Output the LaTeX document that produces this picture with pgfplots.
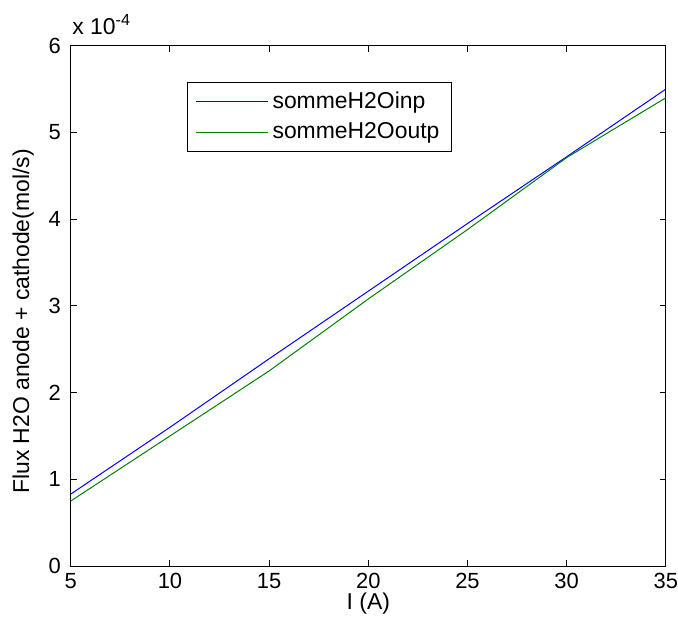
\documentclass[border=0pt]{standalone}
\usepackage{pgfplots}
\pgfplotsset{compat=1.18}
\usepackage{fontspec}
\setmainfont{Liberation Sans}
\definecolor{mblue}{RGB}{0,0,255}
\definecolor{mgreen}{RGB}{0,128,0}
\begin{document}
\begin{tikzpicture}
\begin{axis}[
  scale only axis,
  width=298.5pt, height=261pt,
  xmin=5, xmax=35, ymin=0, ymax=6,
  xtick={5,10,15,20,25,30,35},
  ytick={0,1,2,3,4,5,6},
  tick align=inside,
  major tick length=3pt,
  every tick/.style={black, line width=0.5pt},
  axis line style={line width=0.5pt},
  /pgf/number format/assume math mode=true,
  tick label style={font=\fontsize{11}{13}\selectfont},
  xticklabel style={inner xsep=0pt},
  yticklabel style={xshift=-1.5pt},
  label style={font=\fontsize{11.5}{13}\selectfont},
  xlabel={I (A)},
  ylabel={Flux H2O anode + cathode(mol/s)},
  xlabel style={at={(rel axis cs:0.5,-0.073)}, anchor=center},
  ylabel style={at={(rel axis cs:-0.08,0.47)}, anchor=center},
  legend cell align=left,
  legend style={at={(rel axis cs:0.196,0.931)}, anchor=north west,
    font=\fontsize{11.5}{13}\selectfont,
    inner xsep=4pt, inner ysep=3pt, row sep=1.5pt,
    /tikz/every even column/.append style={column sep=12pt}},
  legend image code/.code={\draw[#1] (0pt,0pt) -- (36pt,0pt);},
  clip=false,
]
\addplot[draw=mblue, line width=0.5pt] coordinates {
 (5,0.83) (10,1.60) (15,2.39) (20,3.17) (25,3.95) (30,4.72) (35,5.50)};
\addlegendentry{sommeH2Oinp}
\addplot[draw=mgreen, line width=0.5pt] coordinates {
 (5,0.75) (10,1.50) (15,2.25) (20,3.08) (25,3.88) (30,4.71) (35,5.40)};
\addlegendentry{sommeH2Ooutp}
\node[anchor=base west, font=\fontsize{11.5}{13}\selectfont, inner sep=0pt]
  at (rel axis cs:0.002,1.022) {x 10\textsuperscript{-4}};
\path (rel axis cs:-0.119,-0.128) rectangle (rel axis cs:1.0205,1.088);
\end{axis}
\end{tikzpicture}
\end{document}
